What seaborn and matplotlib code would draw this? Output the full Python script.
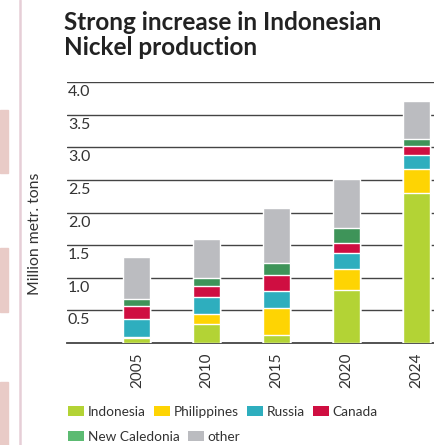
import pandas as pd
import numpy as np
import seaborn as sns
import matplotlib.pyplot as plt
from matplotlib.patches import Patch, Rectangle
from matplotlib.lines import Line2D
from matplotlib.transforms import offset_copy

# dados (milhões de toneladas)
anos = ['2005', '2010', '2015', '2020', '2024']
indonesia = [0.07, 0.285, 0.12, 0.81, 2.30]
philippines = [0.02, 0.165, 0.41, 0.33, 0.365]
russia = [0.28, 0.26, 0.27, 0.24, 0.215]
canada = [0.19, 0.17, 0.235, 0.16, 0.14]
new_caledonia = [0.12, 0.12, 0.19, 0.215, 0.11]
other = [0.64, 0.60, 0.845, 0.755, 0.58]

paises = ['Indonesia', 'Philippines', 'Russia', 'Canada', 'New Caledonia', 'other']
cores = ['#B3D335', '#FED403', '#2EAEBE', '#CF0E41', '#3E9459', '#BBBCC0']
cores_legenda = ['#B3D335', '#FED403', '#2EAEBE', '#CF0E41', '#5CBB72', '#BBBCC0']
yticks = [0.5, 1.0, 1.5, 2.0, 2.5, 3.0, 3.5, 4.0]

df = pd.DataFrame({
    'ano': anos,
    'Indonesia': indonesia,
    'Philippines': philippines,
    'Russia': russia,
    'Canada': canada,
    'New Caledonia': new_caledonia,
    'other': other,
})

sns.set_style('white')
plt.rcParams['font.family'] = ['Lato', 'DejaVu Sans']

fig = plt.figure(figsize=(4.35, 4.45), dpi=100)
ax = fig.add_axes([67 / 435, 102 / 445, 368 / 435, 261 / 445])

# barras empilhadas: desenha os acumulados de cima para baixo
acumulado = df[paises].cumsum(axis=1)
for pais, cor in zip(reversed(paises), reversed(cores)):
    sns.barplot(x=df['ano'], y=acumulado[pais], color=cor, width=0.39,
                saturation=1, ax=ax, zorder=3)

ax.set_xlim(-1.0, 4.27)
ax.set_ylim(0, 4.0)
ax.set_yticks(yticks)
ax.yaxis.grid(True, color='#444444', lw=1.0)
ax.set_axisbelow(True)
for lado in ['top', 'right', 'left']:
    ax.spines[lado].set_visible(False)
ax.spines['bottom'].set_color('#444444')
ax.spines['bottom'].set_linewidth(1.3)

# rótulos do eixo y logo abaixo de cada linha de grade
ax.tick_params(axis='y', length=0, labelleft=False)
trans = offset_copy(ax.get_yaxis_transform(), fig=fig, x=1, y=-3, units='dots')
for v in yticks:
    ax.text(0, v, f'{v:.1f}', transform=trans, ha='left', va='top',
            fontsize=11.5, color='#333333')

ax.tick_params(axis='x', length=0, pad=7, labelsize=11, labelcolor='#333333',
               labelrotation=90)

ax.set_xlabel('')
ax.set_ylabel('Million metr. tons', fontsize=11.3, color='#333333')
ax.yaxis.set_label_coords(-0.068, 0.418)

# título
fig.text(64 / 435, 1 - 11 / 445, 'Strong increase in Indonesian\nNickel production',
         ha='left', va='top', fontsize=17.5, fontweight='bold', color='#222222',
         linespacing=1.12)

# legenda em duas linhas
handles = [Patch(facecolor=c, edgecolor='none') for c in cores_legenda]
kw = dict(frameon=False, fontsize=9.8, handlelength=1.2, handleheight=0.75,
          handletextpad=0.25, columnspacing=0.6, borderpad=0, borderaxespad=0,
          loc='center left', labelcolor='#333333')
fig.legend(handles[:4], paises[:4], ncol=4, bbox_to_anchor=(68 / 435, 33 / 445), **kw)
fig.legend(handles[4:], paises[4:], ncol=2, bbox_to_anchor=(68 / 435, 8 / 445), **kw)

# elementos decorativos da página
fig.add_artist(Line2D([20 / 435, 20 / 435], [0, 1], color='#E6CED7', lw=1.8))
for y0, y1 in [(110, 173), (248, 312), (382, 445)]:
    fig.add_artist(Rectangle((0, 1 - y1 / 445), 8 / 435, (y1 - y0) / 445,
                             color='#E9CBC7', transform=fig.transFigure))

plt.savefig('out.png', dpi=100)
